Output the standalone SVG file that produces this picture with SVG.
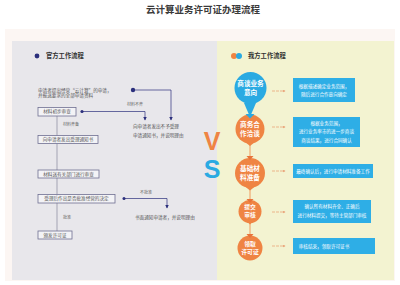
<svg xmlns="http://www.w3.org/2000/svg" width="400" height="285" viewBox="0 0 400 285">
<defs>
<style>
.cjk{font-family:"Noto Sans CJK SC","Noto Sans",sans-serif}
.title{font-size:9.5px;font-weight:bold;fill:#3a3a3a}
.hdr{font-size:6.3px;font-weight:bold;fill:#333}
.sm{font-size:4.6px;fill:#555}
.lbl{font-size:4px;fill:#666}
.box{fill:#f3f3f6;stroke:#6f6f92;stroke-width:0.8}
.vline{stroke:#a3a3b3;stroke-width:1;fill:none}
.nav{stroke:#2b2f7c;stroke-width:0.7;fill:none}
.navf{fill:#2b2f7c}
.bbox{fill:#2eaee6}
.wt{font-size:4.6px;fill:#fff}
.ct{font-size:6.6px;font-weight:bold;fill:#fff}
.ct2{font-size:5.8px;font-weight:bold;fill:#fff}
.org{fill:#ef8443}
.blu{fill:#2aaae2}
.oline{stroke:#ef8443;stroke-width:0.8;fill:none}
.sa{stroke:#e9a47a;stroke-width:0.8;fill:none;stroke-dasharray:3 1}
</style>
<marker id="ah" markerWidth="4" markerHeight="4" refX="3.5" refY="2" orient="auto" markerUnits="userSpaceOnUse"><path d="M0,0 L4,2 L0,4 Z" fill="#2b2f7c"/></marker>
<marker id="sh" markerWidth="3" markerHeight="3" refX="2.5" refY="1.5" orient="auto" markerUnits="userSpaceOnUse"><path d="M0,0 L3,1.5 L0,3 Z" fill="#e9a47a"/></marker>
</defs>
<rect width="400" height="285" fill="#ffffff"/>
<text class="cjk title" x="203" y="13" text-anchor="middle">云计算业务许可证办理流程</text>
<rect x="5" y="29" width="390" height="252" fill="#fcf6f3"/>
<rect x="12" y="41" width="205" height="239" fill="#e8e7eb"/>
<rect x="217" y="41" width="177" height="239" fill="#f3f3d1"/>

<g id="left-header">
<circle cx="37" cy="56" r="2.4" class="navf"/>
<text class="cjk hdr" x="46" y="58.2">官方工作流程</text>
</g>

<g id="connectors">
<path class="vline" d="M57,116 V135.5 M57,143.5 V170 M57,178 V194.5 M57,203 V231"/>
<circle cx="133" cy="90" r="2.2" class="navf"/>
<path class="nav" d="M133,90 H171 V120" marker-end="url(#ah)"/>
<circle cx="82" cy="111.5" r="1.6" class="navf"/>
<path class="nav" d="M82,111.5 H145 V120" marker-end="url(#ah)"/>
<circle cx="124" cy="198.5" r="1.5" class="navf"/>
<path class="nav" d="M124,198.5 H167 V208" marker-end="url(#ah)"/>
<path class="oline" d="M250,117 V129 M250,144 V157 M250,189 V200 M250,223 V236"/>
<path class="sa" d="M272,91 H285" marker-end="url(#sh)"/>
<path class="sa" d="M272,127 H285" marker-end="url(#sh)"/>
<path class="sa" d="M272,171 H285" marker-end="url(#sh)"/>
<path class="sa" d="M272,212 H285" marker-end="url(#sh)"/>
<path class="sa" d="M272,246 H285" marker-end="url(#sh)"/>
</g>

<g id="apply-text">
<text class="cjk sm" x="38" y="91.5">申请者提出经营“云计算”的申请，</text>
<text class="cjk sm" x="38" y="97">并报送要求的全部申请资料</text>
</g>
<g id="n-check">
<rect class="box" x="38" y="107.5" width="38" height="8.5"/>
<text class="cjk sm" x="57" y="113.4" text-anchor="middle">材料初步审查</text>
</g>
<text class="cjk lbl" x="127" y="106">材料不齐</text>
<text class="cjk lbl" x="63" y="125.5">材料齐备</text>
<g id="reject-text">
<text class="cjk sm" x="133" y="128">向申请者发出不予受理</text>
<text class="cjk sm" x="133" y="136.5">申请通知书，并说明理由</text>
</g>
<g id="n-accept">
<rect class="box" x="38" y="135.5" width="60" height="8"/>
<text class="cjk sm" x="68" y="141.1" text-anchor="middle">向申请者发出受理通知书</text>
</g>
<g id="n-dept">
<rect class="box" x="38" y="170" width="61" height="8"/>
<text class="cjk sm" x="68.5" y="175.6" text-anchor="middle">材料送有关部门进行审查</text>
</g>
<g id="n-decide">
<rect class="box" x="38" y="194.5" width="77" height="8.5"/>
<text class="cjk sm" x="76.5" y="200.4" text-anchor="middle">受理后作出是否批准经营的决定</text>
</g>
<text class="cjk lbl" x="140" y="193.5">不批准</text>
<text class="cjk lbl" x="63" y="219">批准</text>
<g id="deny-text">
<text class="cjk sm" x="135" y="219">书面通知申请者，并说明理由</text>
</g>
<g id="n-issue">
<rect class="box" x="38" y="231" width="34" height="8"/>
<text class="cjk sm" x="55" y="236.6" text-anchor="middle">颁发许可证</text>
</g>

<g id="vs">
<text x="212" y="150" text-anchor="middle" font-family="Liberation Sans, sans-serif" font-weight="bold" font-size="25" fill="#ef8443">V</text>
<text x="212" y="178" text-anchor="middle" font-family="Liberation Sans, sans-serif" font-weight="bold" font-size="25" fill="#2aaae2">S</text>
</g>

<g id="right-header">
<circle cx="234" cy="56" r="3" fill="#ef8443"/>
<circle cx="239" cy="56" r="3" fill="#2aaae2"/>
<text class="cjk hdr" x="248" y="58.2">我方工作流程</text>
</g>

<g id="c1">
<path class="blu" d="M244,103 L250,117 L256,103 Z"/>
<circle class="blu" cx="250.5" cy="88" r="16"/>
<text class="cjk ct" x="250.5" y="86" text-anchor="middle">商谈业务</text>
<text class="cjk ct" x="250.5" y="95" text-anchor="middle">意向</text>
</g>
<g id="c2">
<circle class="org" cx="250" cy="129" r="14.5"/>
<path class="org" d="M245,142 L250,146 L255,142 Z"/>
<path class="blu" d="M245.5,114 L250,118.5 L254.5,114 Z"/>
<text class="cjk ct" x="250" y="127" text-anchor="middle">商务合</text>
<text class="cjk ct" x="250" y="136" text-anchor="middle">作洽谈</text>
</g>
<g id="c3">
<circle class="org" cx="250" cy="173" r="15"/>
<path class="org" d="M245,186.5 L250,190.5 L255,186.5 Z"/>
<path fill="#e8733a" d="M246.5,156 L250,160 L253.5,156 Z"/>
<text class="cjk ct" x="250" y="171" text-anchor="middle">基础材</text>
<text class="cjk ct" x="250" y="180" text-anchor="middle">料准备</text>
</g>
<g id="c4">
<circle class="org" cx="250" cy="211.5" r="11.5"/>
<path class="org" d="M246,221 L250,224.5 L254,221 Z"/>
<path fill="#e8733a" d="M246.5,199 L250,203 L253.5,199 Z"/>
<text class="cjk ct2" x="250" y="209.2" text-anchor="middle">提交</text>
<text class="cjk ct2" x="250" y="217.4" text-anchor="middle">审核</text>
</g>
<g id="c5">
<circle class="org" cx="250" cy="248" r="12.5"/>
<path fill="#e8733a" d="M246.5,234 L250,238 L253.5,234 Z"/>
<text class="cjk ct2" x="250" y="245.5" text-anchor="middle">领取</text>
<text class="cjk ct2" x="250" y="254" text-anchor="middle">许可证</text>
</g>

<g id="b1">
<rect class="bbox" x="293" y="78" width="62" height="24"/>
<text class="cjk wt" x="324" y="88" text-anchor="middle">根据描述确定业务范围，</text>
<text class="cjk wt" x="324" y="96" text-anchor="middle">随后进行合作意向确定</text>
</g>
<g id="b2">
<rect class="bbox" x="293" y="117" width="67" height="30"/>
<text class="cjk wt" x="326.5" y="124.5" text-anchor="middle">根据业务范围，</text>
<text class="cjk wt" x="326.5" y="133" text-anchor="middle">进行业务率市的进一步商谈</text>
<text class="cjk wt" x="326.5" y="141.5" text-anchor="middle">商谈结果，进行合同确认</text>
</g>
<g id="b3">
<rect class="bbox" x="293" y="164" width="80" height="14"/>
<text class="cjk wt" x="333" y="172.6" text-anchor="middle">最终确认后，进行申请材料准备工作</text>
</g>
<g id="b4">
<rect class="bbox" x="293" y="200" width="78" height="23"/>
<text class="cjk wt" x="332" y="208" text-anchor="middle">确认所有材料齐全、正确后</text>
<text class="cjk wt" x="332" y="216.5" text-anchor="middle">进行材料提交，等待主管部门审核</text>
</g>
<g id="b5">
<rect class="bbox" x="293" y="238" width="82" height="16"/>
<text class="cjk wt" x="324" y="247.6" text-anchor="middle">审核结束，领取许可证书</text>
</g>
</svg>
